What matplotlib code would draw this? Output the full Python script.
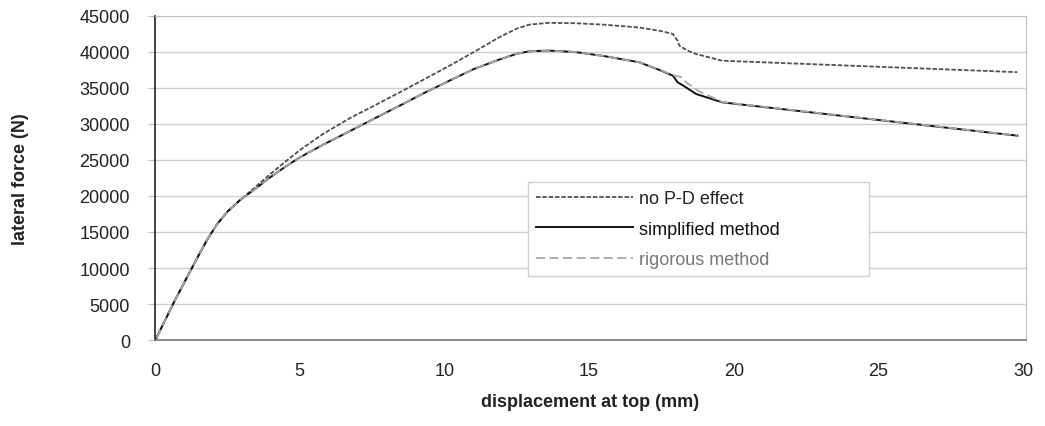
import numpy as np
import matplotlib.pyplot as plt

plt.rcParams['font.family'] = ['Liberation Sans', 'DejaVu Sans']

# displacement at top (mm) and lateral force (N)
disp_nopd = [0.05, 0.7, 1.44, 1.8, 2.13, 2.5, 2.93, 3.5, 4.0, 4.5, 5.0, 5.8,
             6.73, 7.6, 8.46, 9.3, 10.18, 11.0, 11.9, 12.5, 12.94, 13.6, 14.5,
             15.5, 16.74, 17.5, 17.9, 18.06, 18.12, 18.4, 18.7, 19.6, 29.8]
force_nopd = [300, 5600, 11250, 13900, 16000, 17800, 19400, 21350, 23100, 24750,
              26350, 28600, 30800, 32600, 34400, 36200, 38100, 39950, 42050,
              43250, 43800, 44050, 44000, 43800, 43400, 42900, 42500, 41570,
              40880, 40200, 39720, 38790, 37200]

disp_simple = [0.05, 0.7, 1.44, 1.8, 2.13, 2.5, 2.93, 3.5, 4.0, 4.5, 5.0, 5.8,
               6.73, 7.6, 8.46, 9.3, 10.18, 11.0, 11.9, 12.5, 12.94, 13.6, 14.5,
               15.5, 16.74, 17.5, 17.9, 18.06, 18.23, 18.7, 19.6, 29.8]
force_simple = [300, 5600, 11250, 13900, 16000, 17800, 19400, 21100, 22650,
                24050, 25350, 27100, 29000, 30800, 32550, 34300, 36020, 37600,
                38950, 39750, 40100, 40200, 40000, 39450, 38570, 37400, 36710,
                35790, 35400, 34170, 33010, 28380]

disp_rig = [0.05, 0.7, 1.44, 1.8, 2.13, 2.5, 2.93, 3.5, 4.0, 4.5, 5.0, 5.8,
            6.73, 7.6, 8.46, 9.3, 10.18, 11.0, 11.9, 12.5, 12.94, 13.6, 14.5,
            15.5, 16.74, 17.5, 17.9, 18.1, 18.24, 18.35, 18.76, 19.6, 29.8]
force_rig = [300, 5600, 11250, 13900, 16000, 17800, 19400, 21100, 22650, 24050,
             25350, 27100, 29000, 30800, 32550, 34300, 36020, 37600, 38950,
             39750, 40100, 40200, 40000, 39450, 38570, 37450, 36800, 36600,
             36450, 35800, 34630, 33050, 28400]

fig = plt.figure(figsize=(10.45, 4.27), dpi=100)
ax = fig.add_axes([0.1483, 0.2014, 0.8335, 0.7588])

ax.plot(disp_nopd, force_nopd, color='#505050', lw=1.3, dashes=(2.5, 1),
        label='no P-D effect')
ax.plot(disp_simple, force_simple, color='#111111', lw=1.4,
        label='simplified method')
ax.plot(disp_rig, force_rig, color='#a8a8a8', lw=1.3, dashes=(5, 2.5),
        label='rigorous method')

ax.set_xlim(0, 30.1)
ax.set_ylim(0, 45000)
ax.set_xticks(np.arange(0, 31, 5))
ax.set_yticks(np.arange(0, 45001, 5000))
ax.yaxis.grid(True, color='#d0d0d0', lw=1.0)
ax.set_axisbelow(True)

for side in ['top', 'right']:
    ax.spines[side].set_color('#c0c0c0')
ax.spines['left'].set_color('#222222')
ax.spines['bottom'].set_color('#777777')
ax.spines['left'].set_linewidth(1.2)
ax.spines['bottom'].set_linewidth(1.2)

ax.tick_params(axis='y', length=5, color='#c0c0c0', labelsize=13, pad=13,
               labelcolor='#222222')
ax.tick_params(axis='x', length=0, labelsize=13, pad=16, labelcolor='#222222')

ax.set_xlabel('displacement at top (mm)', fontsize=13, fontweight='bold',
              labelpad=10, color='#222222')
ax.set_ylabel('lateral force (N)', fontsize=13, fontweight='bold',
              color='#222222')
ax.yaxis.set_label_coords(-0.145, 0.5)

leg = ax.legend(loc='upper left', bbox_to_anchor=(0.428, 0.1975, 0.3915, 0.29),
                mode='expand', borderaxespad=0, fontsize=13,
                handlelength=5.4, handletextpad=0.3, labelspacing=0.75,
                fancybox=False, framealpha=1, edgecolor='#d0d0d0',
                borderpad=0.45)
for txt, col in zip(leg.get_texts(), ['#222222', '#111111', '#777777']):
    txt.set_color(col)

plt.savefig('out.png', dpi=100)
